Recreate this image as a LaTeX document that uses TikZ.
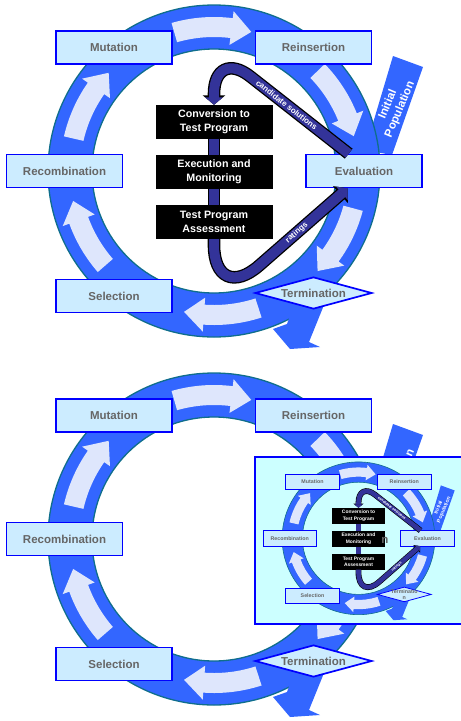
\documentclass[tikz,border=0pt]{standalone}
\usepackage{fontspec}
\newfontfamily\arialfont{Liberation Sans}
\usetikzlibrary{arrows.meta,shapes.geometric,calc}

\definecolor{ringblue}{RGB}{51,102,255}
\definecolor{ringline}{RGB}{15,110,140}
\definecolor{boxfill}{RGB}{204,236,255}
\definecolor{boxline}{RGB}{0,0,255}
\definecolor{textgray}{RGB}{102,102,102}
\definecolor{loopblue}{RGB}{51,51,153}
\definecolor{hatchfill}{RGB}{222,230,252}
\definecolor{insetfill}{RGB}{204,255,255}

% line widths are multiplied by this, so the small copy keeps its look
\newcommand{\gascale}{1}

\tikzset{
  gatext/.style={font=\arialfont\bfseries\fontsize{11.5}{13}\selectfont, text=textgray},
  gabox/.style={gatext, draw=boxline, fill=boxfill, line width=\gascale*1.7pt,
    minimum width=116pt, minimum height=33pt, inner sep=0pt},
  gadiamond/.style={diamond, aspect=3.65, draw=boxline, fill=boxfill, line width=\gascale*1.7pt,
    minimum width=117pt, minimum height=32pt, inner sep=0pt},
  blackbox/.style={fill=black, text=white, font=\arialfont\bfseries\fontsize{10.7}{14}\selectfont,
    minimum width=117pt, minimum height=34pt, inner sep=0pt, align=center},
  poptext/.style={text=white, font=\arialfont\bfseries\fontsize{11.5}{13}\selectfont, align=center, inner sep=0pt},
  looptext/.style={text=white, font=\arialfont\bfseries\fontsize{8}{9}\selectfont, inner sep=0pt},
  ringedge/.style={draw=ringline, line width=\gascale*1.3pt},
  hatch/.style={fill=hatchfill},
  loopout/.style={draw=black, line width=\gascale*12.6pt},
  loopin/.style={draw=loopblue, line width=\gascale*10pt},
  looptip/.style={-{Triangle[length=0pt 0.75,width=0pt 1.75]}}
}

% ring, arrows and boxes, drawn round (0,0); #1 = name prefix, #2 = text of the diamond
\newcommand{\gacycle}[2]{%
  %initial population coming in
  \fill[ringblue] (179,115) -- (209,104) -- (178,16) -- (151,21) -- cycle;
  \node[poptext, rotate=67] (#1pop) at (180,64) {Initial\\Population};
  %the ring itself
  \fill[ringblue, even odd rule] (0,0) circle[radius=166] (0,0) circle[radius=122];
  \draw[ringedge] (0,0) circle[radius=166] (0,0) circle[radius=122];
  %way out after termination
  \fill[ringblue] (78,-139) -- (73,-153) -- (59,-158) -- (76,-178) -- (106,-176) -- (95,-171) -- (110,-134) -- cycle;
  %light arrows going round the ring
  \foreach \a/\b in {106/75, 44/14, -15/-44, -72/-102, 221/192, 167/137}
    \fill[hatch] (\a:154) arc[start angle=\a, end angle=\b+8, radius=154] -- (\b+8:161) -- (\b:144)
      -- (\b+8:127) -- (\b+8:134) arc[start angle=\b+8, end angle=\a, radius=134] -- cycle;
  %the steps
  \node[gabox] (#1mut) at (-100,123.5) {Mutation};
  \node[gabox] (#1rein) at (99.5,123.5) {Reinsertion};
  \node[gabox] (#1recomb) at (-149.5,0) {Recombination};
  \node[gabox] (#1eval) at (150,0) {Evaluation};
  \node[gabox] (#1sel) at (-100,-125) {Selection};
  \node[gadiamond, label={[gatext, align=center]center:#2}] (#1term) at (99.5,-122) {};
}

% black boxes and the loop through the evaluation
\newcommand{\gainner}[1]{%
  \node[blackbox] (#1conv) at (0,49) {Conversion to\\Test Program};
  \node[blackbox] (#1exec) at (0,-1) {Execution and\\Monitoring};
  \node[blackbox] (#1assess) at (0,-51) {Test Program\\Assessment};
  \coordinate (#1ltop) at (0,123);
  \coordinate (#1lbot) at (0,-134);
  \coordinate (#1lin) at ($(#1eval.north west)!0.37!(#1eval.north east)$);
  \coordinate (#1lout) at ($(#1eval.south west)!0.36!(#1eval.south east)$);
  %dark outline first
  \draw[loopout, looptip, rounded corners=\gascale*46pt] (#1lin) -- (#1ltop) -- (#1conv.north);
  \draw[loopout] (#1conv.south) -- (#1exec.north) (#1exec.south) -- (#1assess.north);
  \draw[loopout, looptip, rounded corners=\gascale*60pt] (#1assess.south) -- (#1lbot) -- (#1lout);
  %then the blue band with its labels
  \draw[loopin, looptip, rounded corners=\gascale*46pt] (#1lin) -- node[looptext, sloped, pos=0.46] {candidate solutions} (#1ltop) -- (#1conv.north);
  \draw[loopin] (#1conv.south) -- (#1exec.north) (#1exec.south) -- (#1assess.north);
  \draw[loopin, looptip, rounded corners=\gascale*60pt] (#1assess.south) -- (#1lbot) -- node[looptext, sloped, pos=0.62] {ratings} (#1lout);
}

\begin{document}
\begin{tikzpicture}[x=1pt,y=1pt]
\useasboundingbox (0,0) rectangle (461,-721);

%upper picture
\begin{scope}[shift={(214,-171)}]
\gacycle{t}{Termination}
\gainner{t}
\end{scope}

%lower picture, without the inner loop
\begin{scope}[shift={(214,-539)}]
\gacycle{b}{Termination}
\end{scope}

%small copy laid over it
\draw[draw=boxline, fill=insetfill, line width=1.7pt] (255,-457) rectangle (463,-624);
\begin{scope}[shift={(358.5,-538.3)}, scale=0.46, every node/.append style={transform shape}]
\renewcommand{\gascale}{0.46}
\gacycle{i}{Terminatio\\n}
\gainner{i}
\end{scope}

%end of the hidden label showing through
\node[gatext] (ghost) at (385,-540) {n};

\end{tikzpicture}
\end{document}
